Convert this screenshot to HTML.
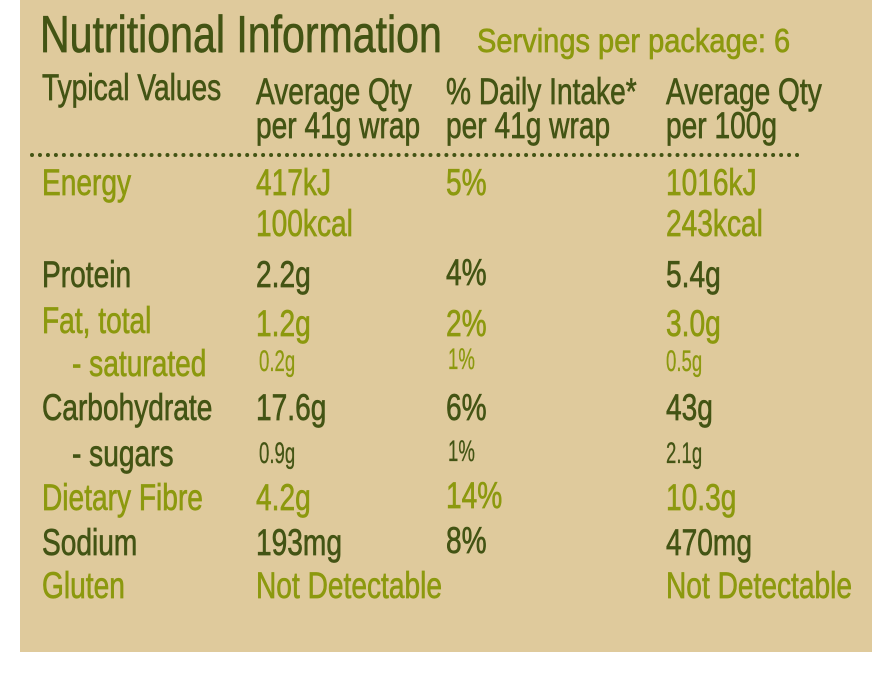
<!DOCTYPE html>
<html><head><meta charset="utf-8"><style>
html,body{margin:0;padding:0;background:#fff;}
#wrap{position:relative;width:885px;height:675px;overflow:hidden;background:#fff;}
#paper{position:absolute;left:20px;top:0;width:852px;height:652px;background:#dfca9c;}
.t{position:absolute;font-family:"Liberation Sans",sans-serif;line-height:1;white-space:nowrap;transform-origin:0 0;transform:scaleX(0.76);-webkit-text-stroke:0.7px currentColor;}
.d{color:#435414;} .o{color:#8c990e;}
.f37{font-size:37px;} .sm{font-size:30px;transform:scaleX(0.62);-webkit-text-stroke:0.3px currentColor;}
#dots{position:absolute;left:30px;top:153px;width:770px;height:0;border-top:4px dotted #435414;}
</style></head><body>
<div id="wrap">
<div id="paper"></div>
<div class="t d" style="left:40px;top:9px;font-size:52px;transform:scaleX(0.79)">Nutritional Information</div>
<div class="t o" style="left:477px;top:24px;font-size:33px;transform:scaleX(0.88)">Servings per package: 6</div>

<div class="t d f37" style="left:42px;top:69px">Typical Values</div>
<div class="t d f37" style="left:256px;top:73px">Average Qty</div>
<div class="t d f37" style="left:256px;top:107px">per 41g wrap</div>
<div class="t d f37" style="left:446px;top:73px">% Daily Intake*</div>
<div class="t d f37" style="left:446px;top:107px">per 41g wrap</div>
<div class="t d f37" style="left:666px;top:73px">Average Qty</div>
<div class="t d f37" style="left:666px;top:107px">per 100g</div>
<div id="dots"></div>

<div class="t o f37" style="left:42px;top:164px">Energy</div>
<div class="t o f37" style="left:256px;top:164px">417kJ</div>
<div class="t o f37" style="left:446px;top:164px">5%</div>
<div class="t o f37" style="left:666px;top:164px">1016kJ</div>
<div class="t o f37" style="left:256px;top:205px">100kcal</div>
<div class="t o f37" style="left:666px;top:205px">243kcal</div>

<div class="t d f37" style="left:42px;top:256px">Protein</div>
<div class="t d f37" style="left:256px;top:256px">2.2g</div>
<div class="t d f37" style="left:446px;top:254px">4%</div>
<div class="t d f37" style="left:666px;top:256px">5.4g</div>

<div class="t o f37" style="left:42px;top:302px">Fat, total</div>
<div class="t o f37" style="left:256px;top:305px">1.2g</div>
<div class="t o f37" style="left:446px;top:305px">2%</div>
<div class="t o f37" style="left:666px;top:305px">3.0g</div>

<div class="t o f37" style="left:72px;top:345px">- saturated</div>
<div class="t o sm" style="left:259px;top:347px">0.2g</div>
<div class="t o sm" style="left:448px;top:345px">1%</div>
<div class="t o sm" style="left:666px;top:347px">0.5g</div>

<div class="t d f37" style="left:42px;top:389px">Carbohydrate</div>
<div class="t d f37" style="left:256px;top:389px">17.6g</div>
<div class="t d f37" style="left:446px;top:389px">6%</div>
<div class="t d f37" style="left:666px;top:389px">43g</div>

<div class="t d f37" style="left:72px;top:435px">- sugars</div>
<div class="t d sm" style="left:259px;top:439px">0.9g</div>
<div class="t d sm" style="left:448px;top:437px">1%</div>
<div class="t d sm" style="left:666px;top:439px">2.1g</div>

<div class="t o f37" style="left:42px;top:479px">Dietary Fibre</div>
<div class="t o f37" style="left:256px;top:479px">4.2g</div>
<div class="t o f37" style="left:446px;top:477px">14%</div>
<div class="t o f37" style="left:666px;top:479px">10.3g</div>

<div class="t d f37" style="left:42px;top:524px">Sodium</div>
<div class="t d f37" style="left:256px;top:524px">193mg</div>
<div class="t d f37" style="left:446px;top:522px">8%</div>
<div class="t d f37" style="left:666px;top:524px">470mg</div>

<div class="t o f37" style="left:42px;top:567px">Gluten</div>
<div class="t o f37" style="left:256px;top:567px">Not Detectable</div>
<div class="t o f37" style="left:666px;top:567px">Not Detectable</div>
</div>
</body></html>
